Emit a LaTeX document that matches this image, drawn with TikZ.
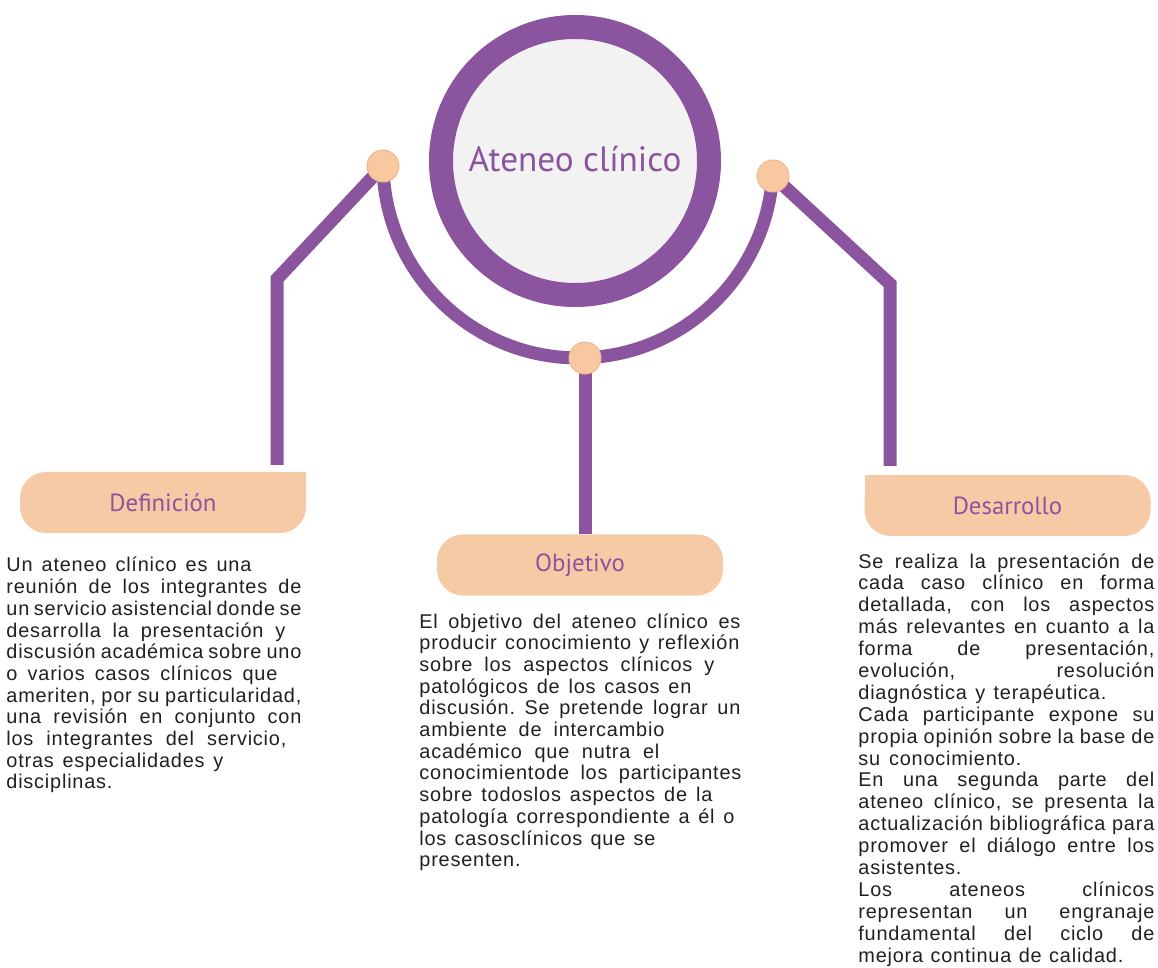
\documentclass[tikz,border=0pt]{standalone}
\usepackage{fontspec}
\setmainfont{Liberation Sans}[LetterSpace=4]
\newfontfamily\tagfont{PT Sans}
\usetikzlibrary{backgrounds}
\definecolor{lila}{RGB}{139,84,158}
\definecolor{peach}{RGB}{247,202,166}
\definecolor{melon}{RGB}{248,200,160}
\definecolor{melonline}{RGB}{238,184,142}
\definecolor{ghost}{RGB}{242,242,242}
\definecolor{ink}{RGB}{35,31,32}
\newcommand\jrow[2]{\makebox[#1][s]{\spaceskip=.25em plus 1fil minus .03em\relax#2}}
\tikzset{
  link/.style={draw=lila, line width=6.5pt},
  pin/.style={circle, fill=melon, draw=melonline, line width=0.5pt, minimum size=16pt, inner sep=0pt},
  tag/.style={fill=peach, rounded corners=13pt, minimum width=143pt, minimum height=30.5pt, inner sep=0pt, text=lila, font=\tagfont\fontsize{12.4}{14}\selectfont},
  body/.style={anchor=base west, inner sep=0pt, align=left, text=ink, font=\fontsize{9.95}{10.85}\selectfont\frenchspacing}
}
\begin{document}
\begin{tikzpicture}[x=0.5pt, y=-0.5pt]
\useasboundingbox (0,0) rectangle (1158,968);
\node[circle, draw=lila, line width=12pt, fill=ghost, minimum size=134pt, inner sep=0pt, text=lila, font=\tagfont\fontsize{17.6}{20}\selectfont] (tit) at (575,161) {\raisebox{2.4pt}{Ateneo clínico}};
\node[pin] (pin0) at (383,166){};
\node[pin] (pin1) at (585,358){};
\node[pin] (pin2) at (773,176){};
\coordinate (k0) at (277,279);
\coordinate (e0) at (277,465);
\coordinate (k2) at (890,284);
\coordinate (e2) at (890,466);
\fill[peach] (280,472) rectangle (306,500);
\node[tag] (tag0) at (163,502.5){Definición};
\node[tag] (tag1) at (580,565){Objetivo};
\fill[peach] (864.5,475) rectangle (890,505);
\node[tag] (tag2) at (1007.5,505.5){Desarrollo};
\begin{scope}[on background layer]
\draw[link](pin0.center) arc[start angle=179.1, end angle=3.8, radius=195];
\draw[link](pin0.center) -- (k0) -- (e0);
\draw[link](pin2.center) -- (k2) -- (e2);
\draw[link](pin1.center) -- (pin1 |- tag1.north);
\end{scope}
\node[body, text width=147.5pt] (txt0) at (6,572){%
\jrow{122.5pt}{Un ateneo clínico es una}\\
\jrow{147.5pt}{reunión de los integrantes de}\\
\jrow{147.5pt}{un servicio asistencial donde se}\\
\jrow{139.5pt}{desarrolla la presentación y}\\
\jrow{147.5pt}{discusión académica sobre uno}\\
\jrow{135.5pt}{o varios casos clínicos que}\\
\jrow{147.5pt}{ameriten, por su particularidad,}\\
\jrow{147.5pt}{una revisión en conjunto con}\\
\jrow{140pt}{los integrantes del servicio,}\\
\jrow{108.5pt}{otras especialidades y}\\
disciplinas.};
\node[body, text width=161pt] (txt1) at (419,628){%
\jrow{160.5pt}{El objetivo del ateneo clínico es}\\
\jrow{160pt}{producir conocimiento y reflexión}\\
\jrow{147.5pt}{sobre los aspectos clínicos y}\\
\jrow{136pt}{patológicos de los casos en}\\
\jrow{160.5pt}{discusión. Se pretende lograr un}\\
\jrow{122.5pt}{ambiente de intercambio}\\
\jrow{120pt}{académico que nutra el}\\
\jrow{161pt}{conocimientode los participantes}\\
\jrow{146.5pt}{sobre todoslos aspectos de la}\\
\jrow{157.5pt}{patología correspondiente a él o}\\
\jrow{118pt}{los casosclínicos que se}\\
presenten.};
\node[body, text width=148pt, font=\fontsize{9.95}{10.95}\selectfont\frenchspacing] (txt2) at (858,568){%
\jrow{148pt}{Se realiza la presentación de}\\
\jrow{148pt}{cada caso clínico en forma}\\
\jrow{148pt}{detallada, con los aspectos}\\
\jrow{148pt}{más relevantes en cuanto a la}\\
\jrow{148pt}{forma de presentación,}\\
\jrow{148pt}{evolución, resolución}\\
\jrow{124pt}{diagnóstica y terapéutica.}\\
\jrow{148pt}{Cada participante expone su}\\
\jrow{148pt}{propia opinión sobre la base de}\\
\jrow{81.5pt}{su conocimiento.}\\
\jrow{148pt}{En una segunda parte del}\\
\jrow{148pt}{ateneo clínico, se presenta la}\\
\jrow{148pt}{actualización bibliográfica para}\\
\jrow{148pt}{promover el diálogo entre los}\\
asistentes.\\
\jrow{148pt}{Los ateneos clínicos}\\
\jrow{148pt}{representan un engranaje}\\
\jrow{148pt}{fundamental del ciclo de}\\
\jrow{132.5pt}{mejora continua de calidad.}};
\end{tikzpicture}
\end{document}
